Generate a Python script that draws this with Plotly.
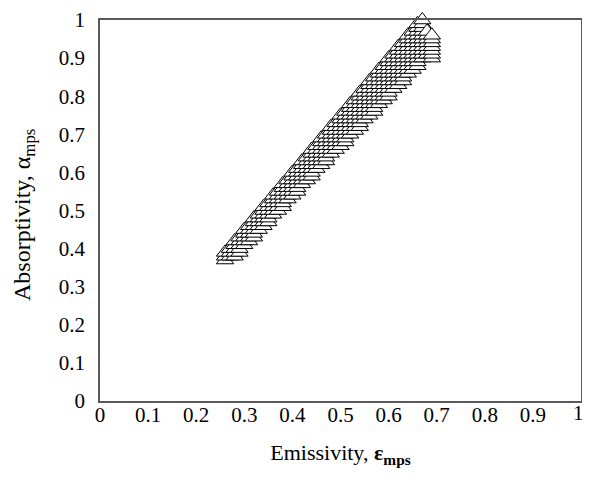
import plotly.graph_objects as go

# Emissivity (column) values and the absorptivity values stacked in each column
eps_cols = [0.26, 0.27, 0.28, 0.29, 0.30, 0.31, 0.32, 0.33, 0.34, 0.35,
            0.36, 0.37, 0.38, 0.39, 0.40, 0.41, 0.42, 0.43, 0.44, 0.45,
            0.46, 0.47, 0.48, 0.49, 0.50, 0.51, 0.52, 0.53, 0.54, 0.55,
            0.56, 0.57, 0.58, 0.59, 0.60, 0.61, 0.62, 0.63, 0.64, 0.65,
            0.66, 0.67, 0.68, 0.69]

alpha_cols = [
    [0.37, 0.38, 0.39],
    [0.38, 0.39, 0.40],
    [0.38, 0.39, 0.40, 0.41, 0.42],
    [0.39, 0.40, 0.41, 0.42, 0.43],
    [0.41, 0.42, 0.43, 0.44, 0.45],
    [0.42, 0.43, 0.44, 0.45, 0.46],
    [0.43, 0.44, 0.45, 0.46, 0.47, 0.48],
    [0.45, 0.46, 0.47, 0.48, 0.49],
    [0.46, 0.47, 0.48, 0.49, 0.50, 0.51],
    [0.47, 0.48, 0.49, 0.50, 0.51, 0.52],
    [0.49, 0.50, 0.51, 0.52, 0.53, 0.54],
    [0.50, 0.51, 0.52, 0.53, 0.54, 0.55],
    [0.51, 0.52, 0.53, 0.54, 0.55, 0.56, 0.57],
    [0.53, 0.54, 0.55, 0.56, 0.57, 0.58],
    [0.54, 0.55, 0.56, 0.57, 0.58, 0.59, 0.60],
    [0.55, 0.56, 0.57, 0.58, 0.59, 0.60, 0.61],
    [0.57, 0.58, 0.59, 0.60, 0.61, 0.62, 0.63],
    [0.58, 0.59, 0.60, 0.61, 0.62, 0.63, 0.64],
    [0.59, 0.60, 0.61, 0.62, 0.63, 0.64, 0.65, 0.66],
    [0.61, 0.62, 0.63, 0.64, 0.65, 0.66, 0.67],
    [0.62, 0.63, 0.64, 0.65, 0.66, 0.67, 0.68, 0.69],
    [0.63, 0.64, 0.65, 0.66, 0.67, 0.68, 0.69, 0.70],
    [0.65, 0.66, 0.67, 0.68, 0.69, 0.70, 0.71, 0.72],
    [0.66, 0.67, 0.68, 0.69, 0.70, 0.71, 0.72, 0.73],
    [0.67, 0.68, 0.69, 0.70, 0.71, 0.72, 0.73, 0.74, 0.75],
    [0.68, 0.69, 0.70, 0.71, 0.72, 0.73, 0.74, 0.75, 0.76],
    [0.70, 0.71, 0.72, 0.73, 0.74, 0.75, 0.76, 0.77, 0.78],
    [0.71, 0.72, 0.73, 0.74, 0.75, 0.76, 0.77, 0.78, 0.79],
    [0.72, 0.73, 0.74, 0.75, 0.76, 0.77, 0.78, 0.79, 0.80, 0.81],
    [0.74, 0.75, 0.76, 0.77, 0.78, 0.79, 0.80, 0.81, 0.82],
    [0.75, 0.76, 0.77, 0.78, 0.79, 0.80, 0.81, 0.82, 0.83, 0.84],
    [0.76, 0.77, 0.78, 0.79, 0.80, 0.81, 0.82, 0.83, 0.84, 0.85],
    [0.78, 0.79, 0.80, 0.81, 0.82, 0.83, 0.84, 0.85, 0.86, 0.87],
    [0.79, 0.80, 0.81, 0.82, 0.83, 0.84, 0.85, 0.86, 0.87, 0.88],
    [0.80, 0.81, 0.82, 0.83, 0.84, 0.85, 0.86, 0.87, 0.88, 0.89, 0.90],
    [0.82, 0.83, 0.84, 0.85, 0.86, 0.87, 0.88, 0.89, 0.90, 0.91],
    [0.83, 0.84, 0.85, 0.86, 0.87, 0.88, 0.89, 0.90, 0.91, 0.92, 0.93],
    [0.84, 0.85, 0.86, 0.87, 0.88, 0.89, 0.90, 0.91, 0.92, 0.93, 0.94],
    [0.86, 0.87, 0.88, 0.89, 0.90, 0.91, 0.92, 0.93, 0.94, 0.95, 0.96],
    [0.87, 0.88, 0.89, 0.90, 0.91, 0.92, 0.93, 0.94, 0.95, 0.96, 0.97],
    [0.88, 0.89, 0.90, 0.91, 0.92, 0.93, 0.94, 0.95, 0.96, 0.97, 0.98, 0.99],
    [0.90, 0.91, 0.92, 0.93, 0.94, 0.95, 0.96, 0.97, 0.98, 0.99, 1.00],
    [0.91, 0.92, 0.93, 0.94, 0.95, 0.96, 0.97],
    [0.90, 0.91, 0.92, 0.93, 0.94, 0.95, 0.96],
]

tick_vals = [0, 0.1, 0.2, 0.3, 0.4, 0.5, 0.6, 0.7, 0.8, 0.9, 1]
tick_text = ["0", "0.1", "0.2", "0.3", "0.4", "0.5", "0.6", "0.7", "0.8", "0.9", "1"]

x_title = "Emissivity, <b>ε<sub>mps</sub></b>"
y_title = "Absorptivity, α<sub>mps</sub>"

xs, ys = [], []
for e, col in zip(eps_cols, alpha_cols):
    for a in col:
        xs.append(e)
        ys.append(a)

FONT = "Liberation Serif, Times New Roman, serif"

fig = go.Figure()
fig.add_trace(go.Scatter(
    x=xs, y=ys, mode="markers", cliponaxis=False,
    marker=dict(symbol="triangle-up", size=15, color="white",
                line=dict(color="black", width=1)),
    showlegend=False, hoverinfo="skip",
))

axis_common = dict(
    range=[0, 1], tickvals=tick_vals,
    showgrid=False, zeroline=False, showline=True, mirror=True,
    linecolor="#595959", linewidth=1.5, ticks="",
    tickfont=dict(family=FONT, size=21, color="black"),
    ticklabeloverflow="allow", automargin=False,
    fixedrange=True,
)

# the page body adds an 8px offset, so the figure is smaller than the window
W, H = 582, 478
ML, MR, MT, MB = 92, 9, 12, 85
# last x tick label is drawn as an annotation (kept inside the figure edge)
x_ticktext = tick_text[:-1] + [""]
fig.update_layout(
    width=W, height=H,
    margin=dict(l=ML, r=MR, t=MT, b=MB),
    paper_bgcolor="white", plot_bgcolor="white",
    font=dict(family=FONT, size=21, color="black"),
    xaxis=dict(**axis_common, ticktext=x_ticktext, ticklabelstandoff=-6,
               title=dict(text=x_title,
                          font=dict(family=FONT, size=22), standoff=19)),
    yaxis=dict(**axis_common, ticktext=tick_text, ticklabelstandoff=9),
)

plot_w = W - ML - MR
plot_h = H - MT - MB
fig.add_annotation(
    text=tick_text[-1], showarrow=False,
    xref="paper", yref="paper", x=(570 - ML) / plot_w, y=0,
    xanchor="center", yanchor="middle", yshift=-12,
    font=dict(family=FONT, size=21, color="black"),
)
# y-axis title placed as a rotated annotation
fig.add_annotation(
    text=y_title, textangle=-90, showarrow=False,
    xref="paper", yref="paper",
    x=(16 - ML) / plot_w, y=(H - MB - 207) / plot_h,
    xanchor="center", yanchor="middle",
    font=dict(family=FONT, size=24, color="black"),
)

fig.write_html("out.html")
